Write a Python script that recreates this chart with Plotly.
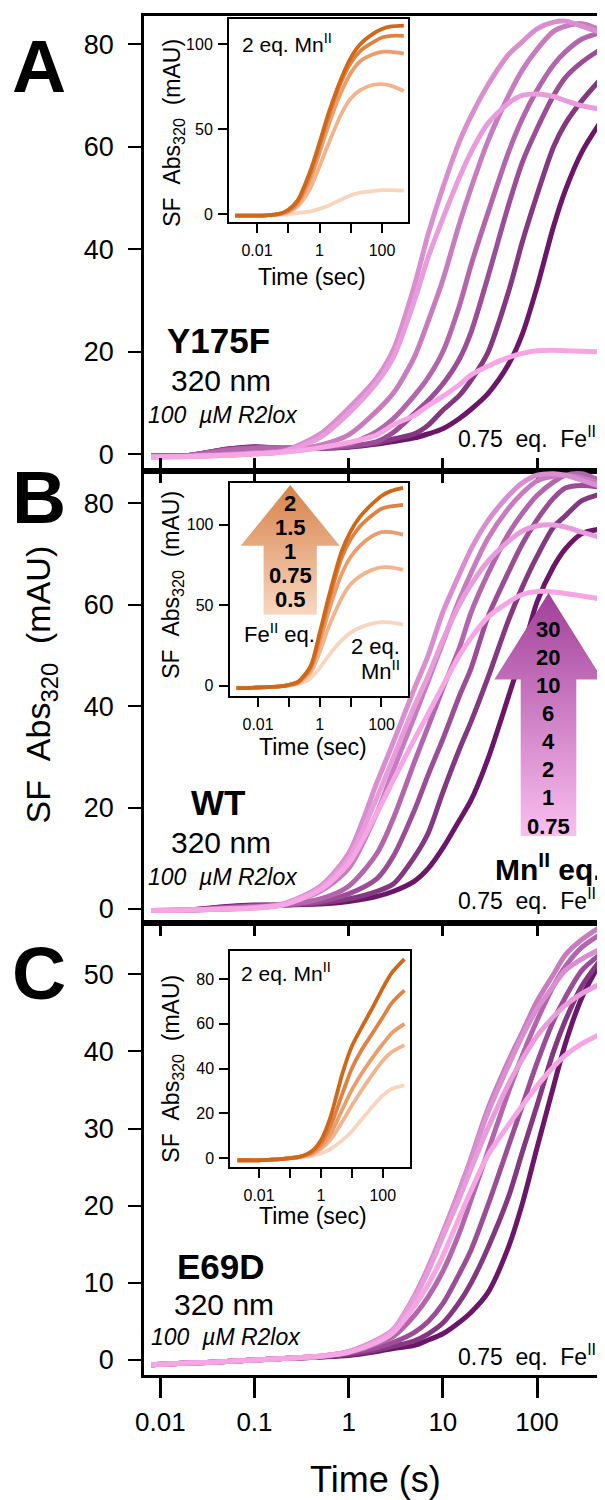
import plotly.graph_objects as go

# ---------------- data ----------------
MN_EQ = ["0.75", "1", "2", "4", "6", "10", "20", "30"]
FE_EQ = ["0.5", "0.75", "1", "1.5", "2"]

T_MAIN = [0.008, 0.02, 0.05, 0.1, 0.2, 0.5, 1, 2, 3, 5, 7, 10, 15, 20, 30, 50, 70, 100, 150, 200, 300, 520]
T_INSET = [0.002, 0.005, 0.01, 0.02, 0.05, 0.1, 0.2, 0.5, 1, 2, 5, 10, 20, 50, 100, 200, 500]

# Panel A  (Y175F)
A_075 = [-0.5, -0.4, -0.2, 0.1, 0.4, 1.3, 2.3, 3.8, 5.8, 7.6, 9.5, 11.3, 13.6, 15.5, 17.2, 18.9, 19.7, 20.2, 20.3, 20.2, 20.1, 20.0]
A_1 = [-0.5, -0.4, -0.2, 0.1, 0.5, 3.3, 8, 14, 19, 30, 38.5, 46, 54, 59, 64.5, 68.5, 70, 70.3, 69.8, 69, 68, 67.2]
A_2 = [-0.5, -0.4, -0.2, 0.1, 0.6, 4, 9, 15, 20.5, 33, 43, 52, 61, 66, 72, 78, 80.5, 83, 84.3, 84.5, 83.5, 82]
A_4 = [-0.4, -0.3, 0, 0.3, 0.6, 1.8, 3.8, 8.5, 12, 19, 26, 34, 45, 52, 61, 70, 75, 79, 82.5, 83.5, 84, 82.5]
A_6 = [-0.3, -0.2, 0.8, 1.2, 1.3, 1.5, 2, 4.5, 7, 11.5, 15, 20, 29, 37, 47, 59, 65.5, 71, 76, 78.5, 81, 82.5]
A_10 = [-0.3, -0.2, 0.9, 1.3, 1.2, 1.3, 1.6, 2.5, 4.3, 8, 10.5, 13.7, 18.6, 23.9, 34.5, 48.7, 57, 63.5, 70, 73.5, 76.5, 79.5]
A_20 = [-0.3, -0.2, 1.0, 1.4, 1.2, 1.2, 1.5, 2.2, 3, 4, 5.7, 8.6, 11.5, 14.5, 19.8, 31.8, 41.5, 50.6, 60, 64.5, 69, 74]
A_30 = [-0.3, -0.2, 1.0, 1.5, 1.2, 1.2, 1.4, 2, 2.5, 3.2, 4, 5, 7, 8.8, 11.8, 17.6, 23.5, 32.6, 44.5, 51.5, 59, 66]

# Panel B  (WT)
B_075 = [-0.3, -0.2, 0, 0.2, 0.8, 3.8, 9, 19, 25.5, 33.5, 38.5, 44, 50, 53.5, 57.5, 60.5, 62, 62.6, 62.5, 62.2, 61.7, 61]
B_1 = [-0.3, -0.2, 0, 0.2, 0.9, 4.2, 10, 22, 30, 40, 46, 53, 60, 64, 68.5, 72.5, 74.5, 75.5, 75.7, 75.3, 74.3, 73]
B_2 = [-0.3, -0.2, 0, 0.3, 1, 4.5, 11, 25, 33, 43.5, 50, 58.5, 66, 71, 76.5, 81.5, 84, 85.5, 85.8, 85.5, 84.5, 83]
B_4 = [-0.3, -0.2, 0, 0.3, 0.9, 3.5, 8, 19, 27.5, 38, 45, 52.5, 61, 66.3, 73, 79, 82, 84.4, 85.3, 85.5, 85, 83.5]
B_6 = [-0.3, -0.2, 0.2, 0.5, 0.8, 2, 4.5, 11, 18, 29, 36, 43.5, 51.5, 58.5, 66, 74, 78, 81.5, 84.2, 85.5, 85.8, 84]
B_10 = [-0.3, -0.2, 0.3, 0.6, 0.8, 1.5, 3, 6, 10.5, 19.5, 26.5, 33.5, 42, 47.5, 57.5, 66.5, 72, 76.7, 81, 83, 83.5, 83]
B_20 = [-0.3, -0.2, 0.4, 0.7, 0.8, 1.2, 2, 3.5, 5, 10.3, 15, 23, 31.5, 37, 45.5, 57, 63.5, 69.5, 75.3, 77.5, 80.5, 82]
B_30 = [-0.3, -0.2, 0.5, 0.8, 0.8, 1.0, 1.5, 2.5, 3.5, 5.5, 8, 12, 17.5, 21.5, 29.5, 42, 50.5, 60.5, 67.5, 71, 74, 75]

# Panel C  (E69D)
C_075 = [-0.6, -0.4, -0.2, 0, 0.2, 0.5, 1.0, 2.3, 3.6, 7, 9.8, 13.5, 18.5, 22, 26.5, 30.5, 33, 35.5, 38, 39.5, 41, 42.5]
C_1 = [-0.6, -0.4, -0.2, 0, 0.2, 0.5, 1.1, 2.5, 4.0, 8, 11.5, 16, 21, 24.8, 30, 35.8, 39, 42, 44.5, 46, 47.5, 49]
C_2 = [-0.6, -0.4, -0.2, 0, 0.2, 0.5, 1.1, 2.6, 4.0, 8.3, 12, 16.5, 22, 26, 32, 38.2, 42, 45.5, 48.5, 50.5, 52, 53.5]
C_4 = [-0.6, -0.4, -0.2, 0, 0.2, 0.5, 1.1, 2.6, 4.0, 8.3, 12, 16.5, 22, 26.2, 32.5, 38.8, 42.5, 46.5, 50, 52.5, 54.5, 56.5]
C_6 = [-0.6, -0.4, -0.2, 0, 0.2, 0.5, 1.0, 2.1, 3.1, 5.8, 8.2, 11.5, 16.5, 20.8, 27, 34.8, 39.5, 44, 48.5, 51, 53.5, 55.5]
C_10 = [-0.6, -0.4, -0.2, 0, 0.2, 0.4, 0.9, 1.6, 2.3, 3.6, 5, 7.3, 11.2, 14.3, 20, 27.8, 33, 38.5, 44, 47, 50.5, 53]
C_20 = [-0.6, -0.4, -0.2, 0, 0.2, 0.4, 0.7, 1.3, 1.8, 2.5, 3.4, 4.8, 7.5, 10, 14.5, 21.2, 27, 33, 40, 44, 48.5, 52.5]
C_30 = [-0.6, -0.4, -0.2, 0, 0.2, 0.4, 0.6, 1.1, 1.5, 1.9, 2.6, 3.4, 4.9, 6.2, 8.7, 14.7, 20.3, 27.5, 35.5, 41, 47, 52.5]

# Insets (2 eq. Mn, varied Fe)
IA_05 = [-1, -1, -1, -0.8, -0.5, -0.2, 0.5, 1.5, 3, 5, 8.5, 11, 12.5, 13.5, 14, 14, 13.7]
IA_075 = [-1, -1, -1, -0.8, -0.3, 1, 4.5, 15, 28, 42, 59, 68, 73, 76, 76.5, 75.5, 72.5]
IA_1 = [-1, -1, -1, -0.8, -0.2, 1.5, 6, 20, 36, 53, 72, 83, 90, 94, 95.5, 95.5, 94.5]
IA_15 = [-1, -1, -1, -0.8, 0, 2, 7, 23, 40, 58, 78, 89, 96, 101, 104, 105, 105]
IA_2 = [-1, -1, -1, -0.8, 0, 2.5, 8, 25, 42, 60, 80, 92, 100, 106, 109, 110.5, 111]

IB_05 = [-1.5, -1.5, -1.2, -1, -0.5, 0, 1, 4.5, 11, 19, 28, 33, 36, 38.5, 39.5, 39.3, 38]
IB_075 = [-1.5, -1.5, -1.2, -1, -0.5, 0.2, 1.5, 8, 21, 37, 54, 63, 68, 72, 73.5, 73.5, 72]
IB_1 = [-1.5, -1.5, -1.2, -1, -0.5, 0.3, 2, 10, 27, 47, 69, 80, 87, 93, 95.5, 95.5, 94]
IB_15 = [-1.5, -1.5, -1.2, -1, -0.5, 0.5, 2.2, 11, 31, 53, 79, 91, 99, 106, 110, 111.5, 112.5]
IB_2 = [-1.5, -1.5, -1.2, -1, -0.5, 0.5, 2.5, 12, 33, 56, 83, 96, 105, 113, 118, 121, 123]

IC_05 = [-1, -1, -1, -0.8, -0.5, -0.2, 0.2, 1, 2, 4, 8, 12, 17, 23.5, 28, 31, 32.5]
IC_075 = [-1, -1, -1, -0.8, -0.5, -0.1, 0.4, 1.5, 4, 8, 16.5, 23.5, 30, 38, 43.5, 47.5, 50.5]
IC_1 = [-1, -1, -1, -0.8, -0.5, 0, 0.5, 2, 5, 10.5, 22, 30.5, 37.5, 45.5, 51, 56, 60]
IC_15 = [-1, -1, -1, -0.8, -0.5, 0, 0.5, 2.5, 6.5, 14, 29, 40, 48, 56.5, 63, 69.5, 75]
IC_2 = [-1, -1, -1, -0.8, -0.5, 0, 0.5, 3, 8, 18, 38, 50, 58, 68, 76, 83, 89]

MAIN_X_TICKS = [0.01, 0.1, 1, 10, 100]
MAIN_X_TICKTEXT = ["0.01", "0.1", "1", "10", "100"]
INSET_X_TICKTEXT = ["0.01", "", "1", "", "100"]

PANELS = [
    ("Y175F", [A_075, A_1, A_2, A_4, A_6, A_10, A_20, A_30], [0, 20, 40, 60, 80]),
    ("WT", [B_075, B_1, B_2, B_4, B_6, B_10, B_20, B_30], [0, 20, 40, 60, 80]),
    ("E69D", [C_075, C_1, C_2, C_4, C_6, C_10, C_20, C_30], [0, 10, 20, 30, 40, 50]),
]
INSETS = [
    [IA_05, IA_075, IA_1, IA_15, IA_2],
    [IB_05, IB_075, IB_1, IB_15, IB_2],
    [IC_05, IC_075, IC_1, IC_15, IC_2],
]
INSET_Y_TICKS = [[0, 50, 100], [0, 50, 100], [0, 20, 40, 60, 80]]

# ---------------- styling / layout ----------------
FONT = "Liberation Sans, Arial, sans-serif"
MN_COLORS = ["#F6A6E4", "#E99CDB", "#D98ECF", "#C87CC0", "#B366AD", "#9B4E97", "#833881", "#6B1669"]
FE_COLORS = ["#F9D5BE", "#F2B48D", "#EB9D6B", "#DF8244", "#CF6818"]

W, H = 605, 1500
ML, MR, MT, MB = 136, 8, 5, 133
PL, PR, PT, PB = ML, W - MR, MT, H - MB


def fx(px):
    return (px - PL) / (PR - PL)


def fy(py):
    return (PB - py) / (PB - PT)


PANEL_PX = [(5, 460.7), (460.7, 914.3), (914.3, 1367)]
Y_RANGES = [[-3.19, 85.5], [-2.81, 86.4], [-1.94, 56.6]]
X_RANGE = [-2.173, 2.722]

INSET_PX = [((221, 400), (8, 211.7)), ((221.7, 400), (473.3, 686.7)), ((222.3, 402), (942.3, 1158.5))]
INSET_YR = [[-4.9, 114.9], [-6.6, 125.9], [-4.0, 92.5]]
INSET_XR = [[-2.896, 2.832], [-2.92, 2.86], [-2.93, 2.88]]

fig = go.Figure()

for i, (name, series, yt) in enumerate(PANELS):
    xa = "x" if i == 0 else f"x{i+1}"
    ya = "y" if i == 0 else f"y{i+1}"
    for k in reversed(range(len(series))):
        fig.add_trace(go.Scatter(x=T_MAIN, y=series[k], mode="lines", xaxis=xa, yaxis=ya,
                                 line=dict(color=MN_COLORS[k], width=5, shape="spline", smoothing=0.8),
                                 showlegend=False, hoverinfo="skip"))

for i, series in enumerate(INSETS):
    xa, ya = f"x{i+4}", f"y{i+4}"
    for k in range(len(series)):
        fig.add_trace(go.Scatter(x=T_INSET, y=series[k], mode="lines", xaxis=xa, yaxis=ya,
                                 line=dict(color=FE_COLORS[k], width=3.8, shape="spline", smoothing=0.8),
                                 showlegend=False, hoverinfo="skip"))


# gradient arrows (decoration layer in pixel coordinates)
def arrow(cx, top, head_base, half_head, half_shaft, bottom, c_top, c_bot):
    xs = [cx, cx + half_head, cx + half_shaft, cx + half_shaft, cx - half_shaft, cx - half_shaft, cx - half_head, cx]
    ys = [top, head_base, head_base, bottom, bottom, head_base, head_base, top]
    fig.add_trace(go.Scatter(x=xs, y=ys, mode="lines", xaxis="x7", yaxis="y7", fill="toself",
                             line=dict(width=0, color="rgba(0,0,0,0)"),
                             fillgradient=dict(type="vertical", start=bottom, stop=top,
                                               colorscale=[[0, c_bot], [1, c_top]]),
                             showlegend=False, hoverinfo="skip"))


arrow(540.5, 583.3, 670, 54.2, 27.8, 826.7, "#A2409A", "#FAC0F0")
arrow(282.2, 475, 536, 49.5, 26.6, 605, "#D7834A", "#F8D8C2")

annotations = []


def txt(x, y, s, size, xanchor="center", yanchor="middle", angle=0):
    annotations.append(dict(x=fx(x), y=fy(y), xref="paper", yref="paper", text=s, showarrow=False,
                            font=dict(size=size, family=FONT, color="black"),
                            xanchor=xanchor, yanchor=yanchor, textangle=angle))


# panel letters
txt(31, 55, "<b>A</b>", 75)
txt(31, 487, "<b>B</b>", 75)
txt(31, 964, "<b>C</b>", 75)
# axis titles
txt(33, 675, "SF&nbsp;&nbsp;Abs<sub>320</sub>&nbsp;&nbsp;(mAU)", 34, angle=-90)
txt(367, 1472, "Time (s)", 36)

label_pos = [(210, 330, 370, 405, 427), (210, 793, 833, 868, 890), (213, 1258, 1296, 1329, 1347)]
for (name, _, _), (cx, y1, y2, y3, y4) in zip(PANELS, label_pos):
    txt(cx, y1, f"<b>{name}</b>", 35)
    txt(cx + 3, y2, "320 nm", 30)
    txt(cx + 5, y3, "<i>100&nbsp;&nbsp;µM R2lox</i>", 23)
    txt(590, y4, "0.75&nbsp;&nbsp;eq.&nbsp;&nbsp;Fe<sup>II</sup>", 23, xanchor="right")

inset_title_pos = [(166, 122, 304, 267), (165, 575, 305, 738), (165, 1060, 305, 1208)]
for (yx, yy, tx, ty) in inset_title_pos:
    txt(yx, yy, "SF&nbsp;&nbsp;Abs<sub>320</sub>&nbsp;&nbsp;(mAU)", 23, angle=-90)
    txt(tx, ty, "Time (sec)", 23)

txt(232, 32, "2 eq. Mn<sup>II</sup>", 21, xanchor="left")
txt(231, 963, "2 eq. Mn<sup>II</sup>", 21, xanchor="left")
txt(271, 623, "Fe<sup>II</sup> eq.", 22)
txt(394, 637, "2 eq.", 22, xanchor="right")
txt(394, 660, "Mn<sup>II</sup>", 22, xanchor="right")

for j, lab in enumerate(reversed(FE_EQ)):
    txt(282, 494 + 24 * j, f"<b>{lab}</b>", 22)
for j, lab in enumerate(reversed(MN_EQ)):
    txt(540, 619.5 + 28.2 * j, f"<b>{lab}</b>", 22)
txt(540, 858, "<b>Mn<sup>II</sup> eq.</b>", 30)

layout = dict(
    width=W, height=H, margin=dict(l=ML, r=MR, t=MT, b=MB),
    paper_bgcolor="white", plot_bgcolor="rgba(0,0,0,0)",
    font=dict(family=FONT, color="black"), showlegend=False,
    annotations=annotations,
)

for i in range(3):
    sfx = "" if i == 0 else str(i + 1)
    top, bot = PANEL_PX[i]
    xax = dict(type="log", range=X_RANGE, domain=[0, 1], anchor="y" + sfx, showgrid=False, zeroline=False,
               showline=True, linecolor="black", linewidth=2.5, tickvals=MAIN_X_TICKS, ticktext=MAIN_X_TICKTEXT,
               ticks="outside", ticklen=10, tickwidth=2.5, tickcolor="black",
               showticklabels=False, mirror=True)
    if i == 1:
        xax["mirror"] = "ticks"
    if i == 2:
        xax.update(showticklabels=True, ticklen=20, tickfont=dict(size=26, family=FONT),
                   ticklabelstandoff=2)
    yax = dict(range=Y_RANGES[i], domain=[fy(bot), fy(top)], anchor="x" + sfx, showgrid=False, zeroline=False,
               showline=True, linecolor="black", linewidth=2.5, mirror=True, tickvals=PANELS[i][2],
               ticks="outside", ticklen=13, tickwidth=2, tickcolor="black",
               tickfont=dict(size=27, family=FONT), ticklabelstandoff=9)
    layout["xaxis" + sfx] = xax
    layout["yaxis" + sfx] = yax

# top ticks of panel C (pointing up into panel B)
layout["xaxis8"] = dict(type="log", range=X_RANGE, overlaying="x3", side="top", anchor="y3",
                        showgrid=False, zeroline=False, showline=False, tickvals=MAIN_X_TICKS,
                        ticks="outside", ticklen=10, tickwidth=2.5, tickcolor="black", showticklabels=False)

for i in range(3):
    n = i + 4
    (x0, x1), (y0, y1) = INSET_PX[i]
    layout[f"xaxis{n}"] = dict(type="log", range=INSET_XR[i], domain=[fx(x0), fx(x1)], anchor=f"y{n}",
                               showgrid=False, zeroline=False, showline=True, linecolor="black", linewidth=2,
                               mirror=True, tickvals=MAIN_X_TICKS, ticktext=INSET_X_TICKTEXT,
                               ticks="outside", ticklen=9, tickwidth=2, tickcolor="black",
                               tickfont=dict(size=16, family=FONT), ticklabelstandoff=4)
    layout[f"yaxis{n}"] = dict(range=INSET_YR[i], domain=[fy(y1), fy(y0)], anchor=f"x{n}",
                               showgrid=False, zeroline=False, showline=True, linecolor="black", linewidth=2,
                               mirror=True, tickvals=INSET_Y_TICKS[i],
                               ticks="outside", ticklen=9, tickwidth=2, tickcolor="black",
                               tickfont=dict(size=16, family=FONT), ticklabelstandoff=2)

layout["xaxis7"] = dict(range=[PL, PR], domain=[0, 1], anchor="y7", visible=False, fixedrange=True)
layout["yaxis7"] = dict(range=[PB, PT], domain=[0, 1], anchor="x7", visible=False, fixedrange=True)

fig.update_layout(**layout)
fig.write_html("out.html")
